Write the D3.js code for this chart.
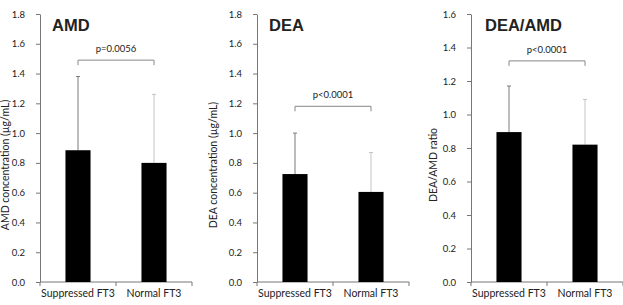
<!DOCTYPE html>
<html>
<head>
<meta charset="utf-8">
<script src="https://cdn.jsdelivr.net/npm/d3@7"></script>
<style>
  body { margin: 0; background: #fff; }
  svg { display: block; }
  text { font-family: Lato, "Open Sans", sans-serif; fill: #222; }
</style>
</head>
<body>
<svg id="chart" width="623" height="305"></svg>
<script>
// data
var categories = ['Suppressed FT3', 'Normal FT3'];
var titles = ['AMD', 'DEA', 'DEA/AMD'];
var yTitles = ['AMD concentration (\u00b5g/mL)', 'DEA concentration (\u00b5g/mL)', 'DEA/AMD ratio'];
var yMaxes = [1.8, 1.8, 1.6];
var yTicks = [
    [0, 0.2, 0.4, 0.6, 0.8, 1.0, 1.2, 1.4, 1.6, 1.8],
    [0, 0.2, 0.4, 0.6, 0.8, 1.0, 1.2, 1.4, 1.6, 1.8],
    [0, 0.2, 0.4, 0.6, 0.8, 1.0, 1.2, 1.4, 1.6]
];
var means = [[0.885, 0.80], [0.725, 0.605], [0.895, 0.82]];
var errorTops = [[1.38, 1.26], [1.0, 0.87], [1.17, 1.09]];
var pLabels = ['p=0.0056', 'p<0.0001', 'p<0.0001'];
var bracketLevels = [1.49, 1.18, 1.32];

// layout
var panelLeft = [40, 257, 471];
var axisWidth = 152;
var plotTop = 14, plotBottom = 282;
var yTitleX = [9, 217, 437];
var yTitleMid = 165;
var errColors = ['#7a7a7a', '#c4c4c4'];

var svg = d3.select('#chart');

titles.forEach(function(title, i) {
    var x = d3.scaleBand()
        .domain(categories)
        .range([panelLeft[i], panelLeft[i] + axisWidth])
        .paddingInner(0.67)
        .paddingOuter(0.335);

    var y = d3.scaleLinear()
        .domain([0, yMaxes[i]])
        .range([plotBottom, plotTop]);

    var g = svg.append('g');

    // y axis
    var yAxis = g.append('g')
        .attr('transform', 'translate(' + panelLeft[i] + ',0)')
        .call(d3.axisLeft(y).tickValues(yTicks[i]).tickFormat(d3.format('.1f'))
            .tickSizeInner(4).tickSizeOuter(0).tickPadding(11));
    yAxis.select('.domain').attr('stroke', '#777');
    yAxis.selectAll('.tick line').attr('stroke', '#777');
    yAxis.selectAll('.tick text').style('font-size', '9.5px').attr('fill', '#333');

    // x axis: ticks at the edges and between the groups
    var xAxis = g.append('g')
        .attr('transform', 'translate(0,' + plotBottom + ')');
    xAxis.append('line')
        .attr('x1', panelLeft[i]).attr('x2', panelLeft[i] + axisWidth)
        .attr('stroke', '#777');
    var sep = [panelLeft[i], (x(categories[0]) + x.bandwidth() + x(categories[1])) / 2, panelLeft[i] + axisWidth];
    xAxis.selectAll('.sep')
        .data(sep)
        .enter().append('line')
        .attr('x1', function(d) { return d; })
        .attr('x2', function(d) { return d; })
        .attr('y1', 0).attr('y2', 4)
        .attr('stroke', '#777');
    xAxis.selectAll('.cat')
        .data(categories)
        .enter().append('text')
        .attr('x', function(d) { return x(d) + x.bandwidth() / 2; })
        .attr('y', 15)
        .attr('text-anchor', 'middle')
        .style('font-size', '10.5px')
        .text(function(d) { return d; });

    // error bars (upper only)
    var bandHalf = x.bandwidth() / 2;
    categories.forEach(function(c, j) {
        var cx = x(c) + bandHalf;
        g.append('line')
            .attr('x1', cx).attr('x2', cx)
            .attr('y1', y(means[i][j])).attr('y2', y(errorTops[i][j]))
            .attr('stroke', errColors[j]).attr('stroke-width', 1);
        g.append('line')
            .attr('x1', cx - 2).attr('x2', cx + 2)
            .attr('y1', y(errorTops[i][j])).attr('y2', y(errorTops[i][j]))
            .attr('stroke', errColors[j]).attr('stroke-width', 1);
    });

    // bars
    g.selectAll('.bar')
        .data(means[i])
        .enter().append('rect')
        .attr('x', function(d, j) { return x(categories[j]); })
        .attr('y', function(d) { return y(d); })
        .attr('width', x.bandwidth())
        .attr('height', function(d) { return plotBottom - y(d); })
        .attr('fill', '#000');

    // significance bracket
    var bx1 = x(categories[0]) + bandHalf;
    var bx2 = x(categories[1]) + bandHalf;
    var by = y(bracketLevels[i]);
    g.append('path')
        .attr('d', 'M' + bx1 + ',' + (by + 5) + 'V' + by + 'H' + bx2 + 'V' + (by + 5))
        .attr('fill', 'none')
        .attr('stroke', '#888')
        .attr('stroke-width', 1);
    g.append('text')
        .attr('x', (bx1 + bx2) / 2)
        .attr('y', by - 8)
        .attr('text-anchor', 'middle')
        .style('font-size', '9.5px')
        .attr('fill', '#333')
        .text(pLabels[i]);

    // panel title
    g.append('text')
        .attr('x', panelLeft[i] + 12 + (i === 2 ? 2 : 0))
        .attr('y', 31)
        .style('font-family', '"Liberation Sans", Arial, sans-serif')
        .style('font-weight', 'bold')
        .style('font-size', '16.5px')
        .attr('fill', '#000')
        .text(title);

    // y axis title
    g.append('text')
        .attr('transform', 'translate(' + yTitleX[i] + ',' + yTitleMid + ') rotate(-90)')
        .attr('text-anchor', 'middle')
        .style('font-size', '10.5px')
        .text(yTitles[i]);
});
</script>
</body>
</html>
